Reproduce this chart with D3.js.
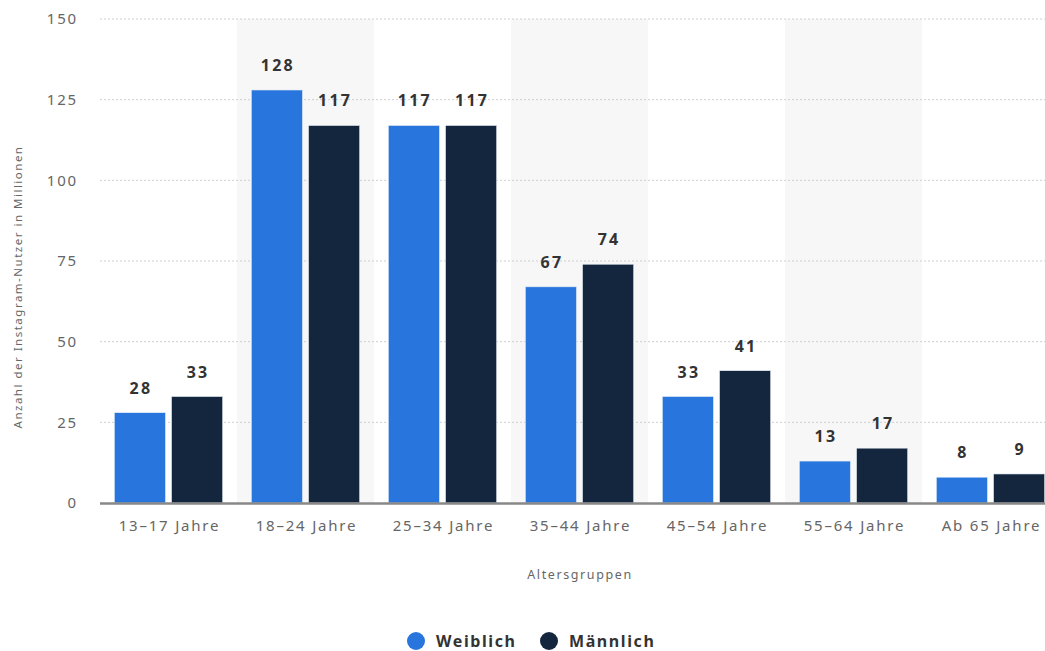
<!DOCTYPE html>
<html><head><meta charset="utf-8">
<script src="https://cdn.jsdelivr.net/npm/d3@7"></script>
<style>body{margin:0;background:#fff;font-family:"Noto Sans","Open Sans",sans-serif;}</style>
</head><body><svg id="c" width="1045" height="651"></svg>
<script>
const categories = ["13-17 Jahre","18-24 Jahre","25-34 Jahre","35-44 Jahre","45-54 Jahre","55-64 Jahre","Ab 65 Jahre"];
const weiblich = [28,128,117,67,33,13,8];
const maennlich = [33,117,117,74,41,17,9];
const seriesNames = ["Weiblich","Männlich"];
const colors = ["#2876dd","#14263d"];
const yTicks = [0,25,50,75,100,125,150];

(function(){
const svg = d3.select("#c");
const pLeft = 100, pRight = 1059, pTop = 19, pBottom = 503;
const x = d3.scaleBand().domain(categories).range([pLeft, pRight]);
const xs = d3.scaleBand().domain(seriesNames).range([0, x.bandwidth()]).paddingInner(0.105).paddingOuter(0.25);
const y = d3.scaleLinear().domain([0,150]).range([pBottom, pTop]);

// alternating band backgrounds
svg.append("g").selectAll("rect").data(categories.filter((d,i)=>i%2===1)).join("rect")
  .attr("x", d=>x(d)).attr("y", pTop).attr("width", x.bandwidth()).attr("height", pBottom-pTop)
  .attr("fill", "#f7f7f7");

// gridlines
svg.append("g").selectAll("line").data(yTicks.filter(d=>d>0)).join("line")
  .attr("x1", pLeft).attr("x2", 1045).attr("y1", d=>y(d)).attr("y2", d=>y(d))
  .attr("stroke", "#cfcfcf").attr("stroke-dasharray", "2,2").attr("stroke-width", 1);

// y tick labels
const yAxis = d3.axisLeft(y).tickValues(yTicks).tickSize(0).tickPadding(0);
const yg = svg.append("g").attr("transform", `translate(78,0)`).call(yAxis);
yg.select(".domain").remove();
yg.selectAll("text").attr("font-size", 15).attr("fill", "#666").attr("letter-spacing", "1.8").attr("font-family", "Noto Sans, sans-serif");

// bars
const data = categories.map((c,i)=>({c, vals:[weiblich[i], maennlich[i]]}));
const groups = svg.append("g").selectAll("g").data(data).join("g").attr("transform", d=>`translate(${x(d.c)},0)`);
groups.selectAll("rect").data(d=>d.vals.map((v,j)=>({v, s:seriesNames[j], j}))).join("rect")
  .attr("x", d=>xs(d.s)).attr("width", xs.bandwidth())
  .attr("y", d=>y(d.v)).attr("height", d=>y(0)-y(d.v))
  .attr("fill", d=>colors[d.j]).attr("stroke", "#e8eef5").attr("stroke-width", 0.6);
groups.selectAll("text").data(d=>d.vals.map((v,j)=>({v, s:seriesNames[j], j}))).join("text")
  .attr("x", d=>xs(d.s)+xs.bandwidth()/2+1).attr("y", d=>y(d.v)-19)
  .attr("text-anchor", "middle").attr("font-size", 16).attr("font-weight", "bold").attr("fill", "#333")
  .attr("letter-spacing", "2.2")
  .text(d=>d.v);

// baseline
svg.append("line").attr("x1", pLeft).attr("x2", 1045).attr("y1", pBottom+0.5).attr("y2", pBottom+0.5)
  .attr("stroke", "#888").attr("stroke-width", 2.5);

// x axis labels
const xAxis = d3.axisBottom(x).tickSize(0).tickPadding(0);
const xg = svg.append("g").attr("transform", `translate(1,${pBottom+23})`).call(xAxis);
xg.select(".domain").remove();
xg.selectAll("text").attr("font-size", 15).attr("fill", "#666").attr("dy", "0.35em").attr("letter-spacing", "1.8")
  .attr("font-family", "Noto Sans, sans-serif")
  .text(d=>d.replace("-", "–"));

// axis titles
svg.append("text").attr("x", 580).attr("y", 579).attr("text-anchor", "middle")
  .attr("font-size", 12.5).attr("fill", "#666").attr("letter-spacing", "1.6").text("Altersgruppen");
svg.append("text").attr("transform", "translate(22,287) rotate(-90)").attr("text-anchor", "middle")
  .attr("font-size", 11.5).attr("fill", "#666").attr("letter-spacing", "1.5").text("Anzahl der Instagram-Nutzer in Millionen");

// legend
const legX = [416, 549];
const lg = svg.append("g").selectAll("g").data(seriesNames).join("g")
  .attr("transform", (d,i)=>`translate(${legX[i]},641)`);
lg.append("circle").attr("r", 9).attr("fill", (d,i)=>colors[i]);
lg.append("text").attr("x", 20).attr("y", 0).attr("dy", "0.35em").attr("font-size", 16).attr("font-weight", "bold")
  .attr("fill", "#333").attr("letter-spacing", "1.6").text(d=>d);
})();
</script></body></html>
